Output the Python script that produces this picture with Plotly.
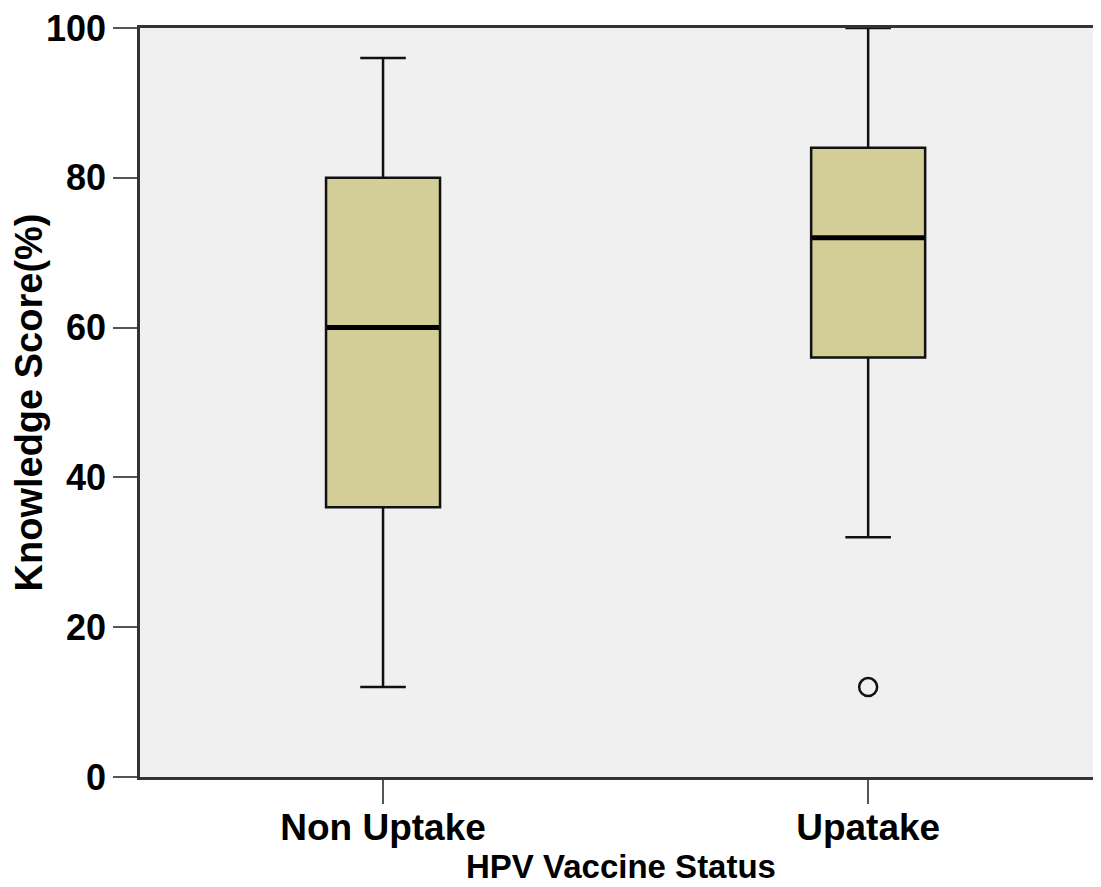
import plotly.graph_objects as go

categories = ["Non Uptake", "Upatake"]
q1 = [36, 56]
median = [60, 72]
q3 = [80, 84]
lower = [12, 32]
upper = [96, 100]
outlier_cat = ["Upatake"]
outlier_val = [12]
y_ticks = [0, 20, 40, 60, 80, 100]

fig = go.Figure()
fig.add_trace(go.Box(
    x=categories, q1=q1, median=median, q3=q3,
    lowerfence=lower, upperfence=upper,
    fillcolor="#D3CE97", line=dict(color="#111111", width=2.5),
    width=0.235, whiskerwidth=0.4, boxpoints=False, hoverinfo="skip",
    showlegend=False,
))
fig.add_trace(go.Scatter(
    x=categories, y=median, mode="markers",
    marker=dict(symbol="line-ew", size=80, line=dict(color="black", width=5)),
    showlegend=False, hoverinfo="skip",
))
fig.add_trace(go.Scatter(
    x=outlier_cat, y=outlier_val, mode="markers",
    marker=dict(symbol="circle-open", size=18, color="#111111", line=dict(width=2.5)),
    showlegend=False,
))

fig.update_layout(
    width=1093, height=879,
    margin=dict(l=132, r=0, t=20, b=110),
    paper_bgcolor="white", plot_bgcolor="#F0F0F0",
    font=dict(family="Liberation Sans, Arial", color="black"),
)
fig.add_annotation(
    text="HPV Vaccine Status", xref="paper", yref="paper",
    x=0.5, y=-110 / 749, xanchor="center", yanchor="bottom", yshift=0,
    showarrow=False, font=dict(size=33, weight="bold"),
)
fig.update_xaxes(
    type="category", range=[-0.501, 1.48], automargin=False,
    showgrid=False, zeroline=False,
    showline=True, linecolor="#333333", linewidth=2.5, mirror=True,
    ticks="outside", ticklen=24, tickwidth=2, tickcolor="#555555",
    tickfont=dict(size=37, weight="bold"), ticklabelstandoff=-8,
)
fig.update_yaxes(
    range=[0, 100], tickvals=y_ticks, automargin=False,
    showgrid=False, zeroline=False, ticklabeloverflow="allow",
    showline=True, linecolor="#333333", linewidth=2.5, mirror=True,
    ticks="outside", ticklen=24, tickwidth=2, tickcolor="#555555",
    tickfont=dict(size=36, weight="bold"),
    title=dict(text="Knowledge Score(%)", font=dict(size=38, weight="bold"), standoff=14),
)

fig.write_html("out.html")
